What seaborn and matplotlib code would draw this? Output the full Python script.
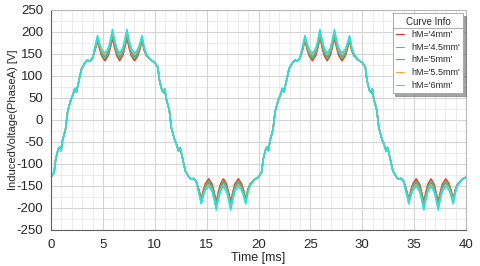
import numpy as np
import pandas as pd
import seaborn as sns
import matplotlib.pyplot as plt
from matplotlib.ticker import MultipleLocator
from matplotlib.lines import Line2D

# time axis [ms]
t_ms = [0.0, 0.3, 0.45, 0.7, 0.88, 0.97, 1.1, 1.4, 1.6, 1.9, 2.13, 2.3, 2.45, 2.7, 2.95, 3.3, 3.5, 3.75, 4.0, 4.25, 4.48, 4.68, 4.88, 5.2, 5.53, 5.73, 5.93, 6.13, 6.33, 6.62, 6.92, 7.12, 7.32, 7.52, 7.72, 8.05, 8.37, 8.57, 8.77, 8.97, 9.2, 9.64,
        10.0, 10.3, 10.45, 10.7, 10.88, 10.97, 11.1, 11.4, 11.6, 11.9, 12.13, 12.3, 12.45, 12.7, 12.95, 13.3, 13.5, 13.75, 14.0, 14.25, 14.48, 14.68, 14.88, 15.2, 15.53, 15.73, 15.93, 16.13, 16.33, 16.62, 16.92, 17.12, 17.32, 17.52, 17.72, 18.05, 18.37, 18.57, 18.77, 18.97, 19.2, 19.64,
        20.0, 20.3, 20.45, 20.7, 20.88, 20.97, 21.1, 21.4, 21.6, 21.9, 22.13, 22.3, 22.45, 22.7, 22.95, 23.3, 23.5, 23.75, 24.0, 24.25, 24.48, 24.68, 24.88, 25.2, 25.53, 25.73, 25.93, 26.13, 26.33, 26.62, 26.92, 27.12, 27.32, 27.52, 27.72, 28.05, 28.37, 28.57, 28.77, 28.97, 29.2, 29.64,
        30.0, 30.3, 30.45, 30.7, 30.88, 30.97, 31.1, 31.4, 31.6, 31.9, 32.13, 32.3, 32.45, 32.7, 32.95, 33.3, 33.5, 33.75, 34.0, 34.25, 34.48, 34.68, 34.88, 35.2, 35.53, 35.73, 35.93, 36.13, 36.33, 36.62, 36.92, 37.12, 37.32, 37.52, 37.72, 38.05, 38.37, 38.57, 38.77, 38.97, 39.2, 39.64,
        40.0]

v_4mm = [-130, -119, -90, -66, -61, -70, -48, -22, 18, 44, 58, 71, 63, 90, 116, 130, 135, 133, 139, 158, 180, 160, 145, 134, 146, 164, 186, 164, 146, 134, 146, 164, 186, 164, 146, 134, 145, 160, 180, 158, 145, 135,
         130, 119, 90, 66, 61, 70, 48, 22, -18, -44, -58, -71, -63, -90, -116, -130, -135, -133, -139, -158, -180, -160, -145, -134, -146, -164, -186, -164, -146, -134, -146, -164, -186, -164, -146, -134, -145, -160, -180, -158, -145, -135,
         -130, -119, -90, -66, -61, -70, -48, -22, 18, 44, 58, 71, 63, 90, 116, 130, 135, 133, 139, 158, 180, 160, 145, 134, 146, 164, 186, 164, 146, 134, 146, 164, 186, 164, 146, 134, 145, 160, 180, 158, 145, 135,
         130, 119, 90, 66, 61, 70, 48, 22, -18, -44, -58, -71, -63, -90, -116, -130, -135, -133, -139, -158, -180, -160, -145, -134, -146, -164, -186, -164, -146, -134, -146, -164, -186, -164, -146, -134, -145, -160, -180, -158, -145, -135,
         -130]

v_4p5mm = [-130, -119, -90, -66, -61, -70, -48, -22, 18, 44, 58, 71, 63, 90, 116, 130, 135, 133, 140, 160, 183, 164, 149, 139, 151, 169, 191, 169, 151, 139, 151, 169, 191, 169, 151, 139, 149, 164, 183, 160, 146, 135,
           130, 119, 90, 66, 61, 70, 48, 22, -18, -44, -58, -71, -63, -90, -116, -130, -135, -133, -140, -160, -183, -164, -149, -139, -151, -169, -191, -169, -151, -139, -151, -169, -191, -169, -151, -139, -149, -164, -183, -160, -146, -135,
           -130, -119, -90, -66, -61, -70, -48, -22, 18, 44, 58, 71, 63, 90, 116, 130, 135, 133, 140, 160, 183, 164, 149, 139, 151, 169, 191, 169, 151, 139, 151, 169, 191, 169, 151, 139, 149, 164, 183, 160, 146, 135,
           130, 119, 90, 66, 61, 70, 48, 22, -18, -44, -58, -71, -63, -90, -116, -130, -135, -133, -140, -160, -183, -164, -149, -139, -151, -169, -191, -169, -151, -139, -151, -169, -191, -169, -151, -139, -149, -164, -183, -160, -146, -135,
           -130]

v_5mm = [-130, -119, -90, -66, -61, -70, -48, -22, 18, 44, 58, 71, 63, 90, 116, 130, 135, 133, 140, 162, 186, 168, 153, 143, 155, 173, 196, 173, 155, 143, 155, 173, 196, 173, 155, 143, 153, 168, 186, 162, 147, 135,
         130, 119, 90, 66, 61, 70, 48, 22, -18, -44, -58, -71, -63, -90, -116, -130, -135, -133, -140, -162, -186, -168, -153, -143, -155, -173, -196, -173, -155, -143, -155, -173, -196, -173, -155, -143, -153, -168, -186, -162, -147, -135,
         -130, -119, -90, -66, -61, -70, -48, -22, 18, 44, 58, 71, 63, 90, 116, 130, 135, 133, 140, 162, 186, 168, 153, 143, 155, 173, 196, 173, 155, 143, 155, 173, 196, 173, 155, 143, 153, 168, 186, 162, 147, 135,
         130, 119, 90, 66, 61, 70, 48, 22, -18, -44, -58, -71, -63, -90, -116, -130, -135, -133, -140, -162, -186, -168, -153, -143, -155, -173, -196, -173, -155, -143, -155, -173, -196, -173, -155, -143, -153, -168, -186, -162, -147, -135,
         -130]

v_5p5mm = [-130, -119, -90, -66, -61, -70, -48, -22, 18, 44, 58, 71, 63, 90, 116, 130, 135, 133, 141, 164, 188, 170, 156, 147, 159, 177, 200, 177, 159, 147, 159, 177, 200, 177, 159, 147, 156, 170, 188, 164, 148, 135,
           130, 119, 90, 66, 61, 70, 48, 22, -18, -44, -58, -71, -63, -90, -116, -130, -135, -133, -141, -164, -188, -170, -156, -147, -159, -177, -200, -177, -159, -147, -159, -177, -200, -177, -159, -147, -156, -170, -188, -164, -148, -135,
           -130, -119, -90, -66, -61, -70, -48, -22, 18, 44, 58, 71, 63, 90, 116, 130, 135, 133, 141, 164, 188, 170, 156, 147, 159, 177, 200, 177, 159, 147, 159, 177, 200, 177, 159, 147, 156, 170, 188, 164, 148, 135,
           130, 119, 90, 66, 61, 70, 48, 22, -18, -44, -58, -71, -63, -90, -116, -130, -135, -133, -141, -164, -188, -170, -156, -147, -159, -177, -200, -177, -159, -147, -159, -177, -200, -177, -159, -147, -156, -170, -188, -164, -148, -135,
           -130]

v_6mm = [-130, -119, -90, -66, -61, -70, -48, -22, 18, 44, 58, 71, 63, 90, 116, 130, 135, 133, 141, 166, 191, 174, 160, 151, 163, 182, 205, 182, 163, 151, 163, 182, 205, 182, 163, 151, 160, 174, 191, 166, 149, 135,
         130, 119, 90, 66, 61, 70, 48, 22, -18, -44, -58, -71, -63, -90, -116, -130, -135, -133, -141, -166, -191, -174, -160, -151, -163, -182, -205, -182, -163, -151, -163, -182, -205, -182, -163, -151, -160, -174, -191, -166, -149, -135,
         -130, -119, -90, -66, -61, -70, -48, -22, 18, 44, 58, 71, 63, 90, 116, 130, 135, 133, 141, 166, 191, 174, 160, 151, 163, 182, 205, 182, 163, 151, 163, 182, 205, 182, 163, 151, 160, 174, 191, 166, 149, 135,
         130, 119, 90, 66, 61, 70, 48, 22, -18, -44, -58, -71, -63, -90, -116, -130, -135, -133, -141, -166, -191, -174, -160, -151, -163, -182, -205, -182, -163, -151, -163, -182, -205, -182, -163, -151, -160, -174, -191, -166, -149, -135,
         -130]

labels = ["hM='4mm'", "hM='4.5mm'", "hM='5mm'", "hM='5.5mm'", "hM='6mm'"]
colors = ['#ff2a2a', '#33dd33', '#3d9dff', '#ffa040', '#19e6e6']

frames = []
for lab, vals in zip(labels, [v_4mm, v_4p5mm, v_5mm, v_5p5mm, v_6mm]):
    frames.append(pd.DataFrame({'Time': t_ms, 'V': vals, 'hM': lab}))
df = pd.concat(frames, ignore_index=True)

sns.set_style('white')
plt.rcParams['font.family'] = ['Liberation Sans', 'DejaVu Sans']
plt.rcParams['axes.unicode_minus'] = False

fig = plt.figure(figsize=(4.8, 2.66), dpi=100)
ax = fig.add_axes([51/480, 1-230/266, 415/480, 220.5/266])

sns.lineplot(data=df, x='Time', y='V', hue='hM', palette=colors, linewidth=1.1, ax=ax)

ax.set_xlim(0, 40)
ax.set_ylim(-250, 250)
ax.xaxis.set_major_locator(MultipleLocator(5))
ax.xaxis.set_minor_locator(MultipleLocator(1))
ax.yaxis.set_major_locator(MultipleLocator(50))
ax.yaxis.set_minor_locator(MultipleLocator(5))

ax.grid(which='major', axis='x', color='#d4d4d4', linewidth=0.8)
ax.grid(which='minor', axis='x', color='#e8e8e8', linewidth=0.6)
ax.grid(which='major', axis='y', color='#d4d4d4', linewidth=0.8)
for yv in np.arange(-225, 250, 50):
    ax.axhline(yv, color='#e8e8e8', linewidth=0.6, zorder=0)
ax.set_axisbelow(True)

ax.tick_params(which='major', labelsize=9.5, length=2.5, width=0.6, color='#808080', pad=3)
ax.tick_params(axis='x', which='major', pad=4)
ax.tick_params(which='minor', length=1.5, width=0.5, color='#a0a0a0')
for side in ['left', 'bottom']:
    ax.spines[side].set_color('#606060')
    ax.spines[side].set_linewidth(0.8)
for side in ['top', 'right']:
    ax.spines[side].set_color('#b8b8b8')
    ax.spines[side].set_linewidth(0.8)

ax.set_xlabel('Time [ms]', fontsize=9)
ax.set_ylabel('InducedVoltage(PhaseA) [V]', fontsize=8)
ax.xaxis.set_label_coords(0.5, -0.1)
ax.yaxis.set_label_coords(-0.08, 0.5)

leg = ax.legend(title='Curve Info', loc='upper right', bbox_to_anchor=(0.993, 0.982),
                fontsize=6.5, title_fontsize=7, handlelength=0.9, handletextpad=0.8,
                labelspacing=0.4, borderpad=0.35, fancybox=False, shadow=True,
                edgecolor='#a0a0a0', borderaxespad=0)
leg.get_frame().set_linewidth(0.6)
for line in leg.get_lines():
    line.set_linewidth(0.8)

# separator line under the legend title
fig.canvas.draw()
inv = fig.transFigure.inverted()
box = inv.transform(leg.get_window_extent())
tbox = inv.transform(leg.get_title().get_window_extent())
first = inv.transform(leg.get_texts()[0].get_window_extent())
ysep = (tbox[0][1] + first[1][1]) / 2
fig.add_artist(Line2D([box[0][0], box[1][0]], [ysep, ysep], transform=fig.transFigure,
                      color='#a0a0a0', linewidth=0.6, zorder=10))

fig.savefig('out.png', dpi=100)
